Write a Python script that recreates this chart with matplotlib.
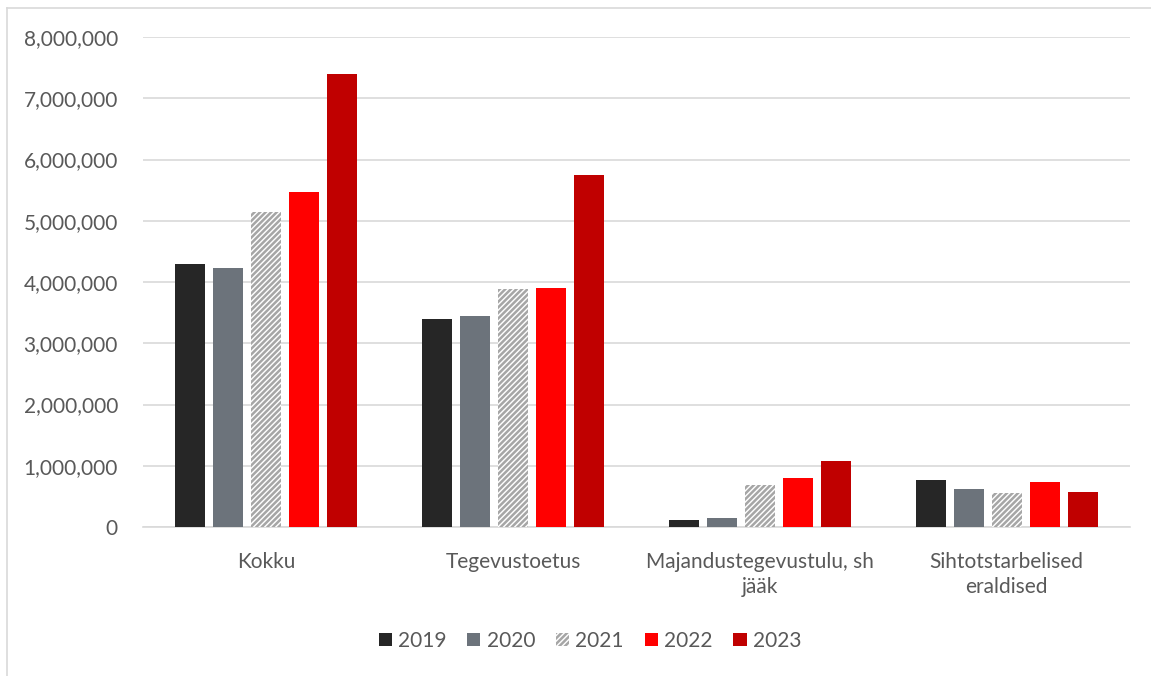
import matplotlib
matplotlib.use("Agg")
import matplotlib.pyplot as plt
import numpy as np
from matplotlib.ticker import FuncFormatter
from matplotlib.lines import Line2D

plt.rcParams['hatch.color'] = '#A6A6A6'
plt.rcParams['hatch.linewidth'] = 1.8
plt.rcParams['font.family'] = ['Lato', 'DejaVu Sans']

categories = ["Kokku", "Tegevustoetus", "Majandustegevustulu, sh\njääk", "Sihtotstarbelised\neraldised"]
years = ["2019", "2020", "2021", "2022", "2023"]
v2019 = [4290000, 3400000, 120000, 760000]
v2020 = [4230000, 3440000, 140000, 615000]
v2021 = [5140000, 3890000, 680000, 550000]
v2022 = [5470000, 3900000, 800000, 730000]
v2023 = [7400000, 5750000, 1070000, 570000]
series = [v2019, v2020, v2021, v2022, v2023]
colors = ["#262626", "#6C737B", "white", "#FF0000", "#C00000"]
hatches = [None, None, "//////", None, None]

W, H = 1151, 676
fig = plt.figure(figsize=(W/100, H/100), dpi=100)
ax = fig.add_axes([143/W, 1-527/H, (1130-143)/W, (527-37)/H])

x = np.arange(len(categories))
bw = 0.1216
step = 0.154
for i, (vals, c, h) in enumerate(zip(series, colors, hatches)):
    off = (i - 2) * step
    if h:
        ax.bar(x + off, vals, bw, color='white', hatch=h, edgecolor='#A6A6A6', linewidth=0, label=years[i], zorder=3)
    else:
        ax.bar(x + off, vals, bw, color=c, label=years[i], zorder=3)

ax.set_xlim(-0.5, len(categories) - 0.5)
ax.set_ylim(0, 8000000)
ax.set_yticks(np.arange(0, 8000001, 1000000))
ax.yaxis.set_major_formatter(FuncFormatter(lambda v, p: f"{int(v):,}"))
ax.grid(axis='y', color='#D9D9D9', linewidth=1.2, zorder=0)
for s in ['top', 'right', 'left']:
    ax.spines[s].set_visible(False)
ax.spines['bottom'].set_color('#D9D9D9')
ax.spines['bottom'].set_linewidth(1.2)
ax.tick_params(axis='both', length=0, colors='#595959', labelsize=15)
ax.tick_params(axis='y', pad=18)
ax.tick_params(axis='x', pad=18)
ax.set_xticks(x)
ax.set_xticklabels(categories, linespacing=1.3)

handles, labels = ax.get_legend_handles_labels()
leg = fig.legend(handles, labels, loc='center', bbox_to_anchor=(590/W, 1-641/H), ncol=5,
                 frameon=False, fontsize=15, handlelength=0.63, handleheight=0.63,
                 handletextpad=0.3, columnspacing=1.0)
for t in leg.get_texts():
    t.set_color('#595959')

# figure border (top and left visible)
fig.add_artist(Line2D([7.5/W, 1], [1-7.5/H, 1-7.5/H], transform=fig.transFigure, color='#D9D9D9', linewidth=1.2))
fig.add_artist(Line2D([7.5/W, 7.5/W], [0, 1-7.5/H], transform=fig.transFigure, color='#D9D9D9', linewidth=1.2))

fig.savefig("out.png", dpi=100)
